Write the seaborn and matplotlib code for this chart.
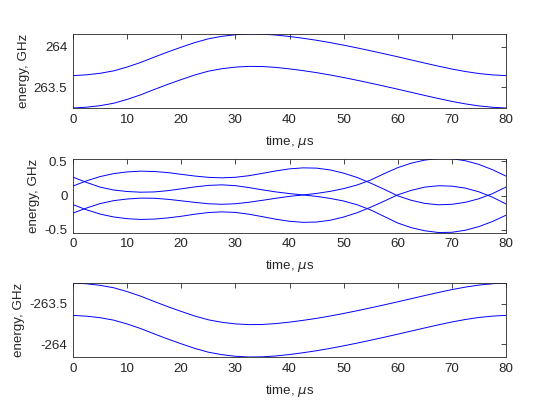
import numpy as np
import pandas as pd
import seaborn as sns
import matplotlib
matplotlib.use('Agg')
import matplotlib.pyplot as plt

# time axis, microseconds
time_us = [0, 2.5, 5, 7.5, 10, 12.5, 15, 17.5, 20, 22.5, 25, 27.5, 30, 32.5, 35, 37.5,
           40, 42.5, 45, 47.5, 50, 52.5, 55, 57.5, 60, 62.5, 65, 67.5, 70, 72.5, 75, 77.5, 80]

# top panel, GHz
top_low = [263.239, 263.249, 263.268, 263.298, 263.346, 263.403, 263.469, 263.533, 263.593,
           263.650, 263.697, 263.728, 263.748, 263.757, 263.755, 263.744, 263.726, 263.704,
           263.679, 263.650, 263.618, 263.584, 263.548, 263.511, 263.473, 263.434, 263.395,
           263.357, 263.321, 263.290, 263.265, 263.248, 263.239]
top_high = [263.642, 263.652, 263.671, 263.701, 263.749, 263.806, 263.872, 263.936, 263.996,
            264.053, 264.100, 264.131, 264.151, 264.160, 264.158, 264.147, 264.129, 264.107,
            264.082, 264.053, 264.021, 263.987, 263.951, 263.914, 263.876, 263.837, 263.798,
            263.760, 263.724, 263.693, 263.668, 263.651, 263.642]

# middle panel, GHz
mid_a = [0.138, 0.213, 0.275, 0.318, 0.343, 0.354, 0.349, 0.333, 0.308, 0.283, 0.264,
         0.257, 0.265, 0.288, 0.322, 0.358, 0.387, 0.402, 0.398, 0.372, 0.325, 0.262,
         0.18, 0.09, -0.005, -0.07, -0.115, -0.135, -0.128, -0.099, -0.047, 0.027, 0.123]
mid_b = [-0.133, -0.208, -0.27, -0.312, -0.337, -0.348, -0.343, -0.326, -0.302, -0.272,
         -0.248, -0.238, -0.246, -0.272, -0.308, -0.345, -0.375, -0.39, -0.386, -0.36,
         -0.313, -0.25, -0.17, -0.082, 0.01, 0.075, 0.122, 0.142, 0.136, 0.107, 0.053,
         -0.024, -0.123]
mid_c = [0.267, 0.19, 0.122, 0.08, 0.058, 0.048, 0.052, 0.07, 0.097, 0.125, 0.147, 0.155,
         0.143, 0.115, 0.082, 0.052, 0.028, 0.008, -0.013, -0.042, -0.08, -0.135, -0.21,
         -0.305, -0.4, -0.468, -0.513, -0.538, -0.535, -0.505, -0.452, -0.378, -0.287]
mid_d = [-0.256, -0.182, -0.118, -0.075, -0.051, -0.038, -0.04, -0.055, -0.077, -0.1,
         -0.12, -0.128, -0.12, -0.098, -0.07, -0.04, -0.012, 0.008, 0.03, 0.06, 0.1,
         0.153, 0.225, 0.318, 0.405, 0.47, 0.515, 0.538, 0.535, 0.505, 0.452, 0.375, 0.282]

# bottom panel, GHz
bot_high = [-263.239, -263.249, -263.268, -263.298, -263.346, -263.403, -263.469, -263.533,
            -263.593, -263.650, -263.697, -263.728, -263.748, -263.757, -263.755, -263.744,
            -263.726, -263.704, -263.679, -263.650, -263.618, -263.584, -263.548, -263.511,
            -263.473, -263.434, -263.395, -263.357, -263.321, -263.290, -263.265, -263.248,
            -263.239]
bot_low = [-263.642, -263.652, -263.671, -263.701, -263.749, -263.806, -263.872, -263.936,
           -263.996, -264.053, -264.100, -264.131, -264.151, -264.160, -264.158, -264.147,
           -264.129, -264.107, -264.082, -264.053, -264.021, -263.987, -263.951, -263.914,
           -263.876, -263.837, -263.798, -263.760, -263.724, -263.693, -263.668, -263.651,
           -263.642]

x_ticks = [0, 10, 20, 30, 40, 50, 60, 70, 80]
panels = [
    ([top_low, top_high], [263.5, 264], ['263.5', '264']),
    ([mid_a, mid_b, mid_c, mid_d], [-0.5, 0, 0.5], ['-0.5', '0', '0.5']),
    ([bot_high, bot_low], [-264, -263.5], ['-264', '-263.5']),
]

sns.set_style('white')
plt.rcParams['font.family'] = ['Liberation Sans', 'DejaVu Sans']
plt.rcParams['axes.unicode_minus'] = False
plt.rcParams['mathtext.fontset'] = 'dejavusans'
dark = '#262626'

fig = plt.figure(figsize=(5.6, 4.2), dpi=100)
tops = [34, 158.5, 283]
for (curves, yt, ytl), top in zip(panels, tops):
    ax = fig.add_axes([73 / 560, 1 - (top + 74) / 420, 433 / 560, 74 / 420])
    for c in curves:
        df = pd.DataFrame({'t': time_us, 'e': c})
        sns.lineplot(data=df, x='t', y='e', ax=ax, color='blue', lw=0.7)
    allv = np.concatenate([np.array(c) for c in curves])
    ax.set_xlim(0, 80)
    ax.set_ylim(allv.min(), allv.max())
    ax.set_xticks(x_ticks)
    ax.set_yticks(yt)
    ax.set_yticklabels(ytl)
    ax.tick_params(direction='in', top=True, right=True, length=3.5, width=0.6,
                   labelsize=9.6, colors=dark, pad=4)
    for s in ax.spines.values():
        s.set_color(dark)
        s.set_linewidth(0.6)
    ax.set_xlabel(r'time, $\mu$s', fontsize=9.6, color=dark, labelpad=6)
    ax.set_ylabel('energy, GHz', fontsize=9.6, color=dark, labelpad=3)

plt.savefig('out.png', dpi=100)
